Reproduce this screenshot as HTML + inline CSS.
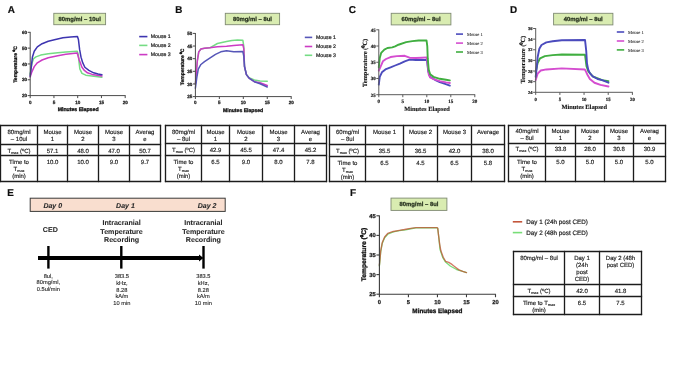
<!DOCTYPE html><html><head><meta charset="utf-8"><style>html,body{margin:0;padding:0;background:#fff;}svg{display:block;will-change:transform;text-rendering:geometricPrecision}</style></head><body>
<svg width="685" height="385" viewBox="0 0 685 385">
<defs><filter id="bl" x="0" y="0" width="1" height="1"><feGaussianBlur stdDeviation="0.35"/></filter></defs>
<rect width="685" height="385" fill="#fff"/>
<g filter="url(#bl)">
<text x="7.80" y="13.10" font-size="9.9" text-anchor="start" font-weight="bold" font-family='"Liberation Sans", sans-serif' fill="#111" stroke="#111" stroke-width="0.2">A</text>
<text x="175.30" y="13.00" font-size="9.9" text-anchor="start" font-weight="bold" font-family='"Liberation Sans", sans-serif' fill="#111" stroke="#111" stroke-width="0.2">B</text>
<text x="348.70" y="12.80" font-size="9.9" text-anchor="start" font-weight="bold" font-family='"Liberation Sans", sans-serif' fill="#111" stroke="#111" stroke-width="0.2">C</text>
<text x="510.00" y="13.40" font-size="9.9" text-anchor="start" font-weight="bold" font-family='"Liberation Sans", sans-serif' fill="#111" stroke="#111" stroke-width="0.2">D</text>
<text x="7.30" y="196.00" font-size="9.9" text-anchor="start" font-weight="bold" font-family='"Liberation Sans", sans-serif' fill="#111" stroke="#111" stroke-width="0.2">E</text>
<text x="350.00" y="195.60" font-size="9.9" text-anchor="start" font-weight="bold" font-family='"Liberation Sans", sans-serif' fill="#111" stroke="#111" stroke-width="0.2">F</text>
<rect x="53.8" y="13.3" width="51.8" height="11.4" fill="#d9ecb1" stroke="#7f8a72" stroke-width="0.9"/>
<text x="79.70" y="21.12" font-size="5.9" text-anchor="middle" font-weight="bold" font-family='"Liberation Sans", sans-serif' fill="#27321f" stroke="#27321f" stroke-width="0.25">80mg/ml – 10ul</text>
<rect x="225.3" y="13.3" width="54.3" height="11.4" fill="#d9ecb1" stroke="#7f8a72" stroke-width="0.9"/>
<text x="252.45" y="21.12" font-size="5.9" text-anchor="middle" font-weight="bold" font-family='"Liberation Sans", sans-serif' fill="#27321f" stroke="#27321f" stroke-width="0.25">80mg/ml – 8ul</text>
<rect x="391.2" y="13.3" width="59.7" height="11.6" fill="#d9ecb1" stroke="#7f8a72" stroke-width="0.9"/>
<text x="421.05" y="21.22" font-size="5.9" text-anchor="middle" font-weight="bold" font-family='"Liberation Sans", sans-serif' fill="#27321f" stroke="#27321f" stroke-width="0.25">60mg/ml – 8ul</text>
<rect x="553.6" y="13.3" width="59.3" height="11.6" fill="#d9ecb1" stroke="#7f8a72" stroke-width="0.9"/>
<text x="583.25" y="21.22" font-size="5.9" text-anchor="middle" font-weight="bold" font-family='"Liberation Sans", sans-serif' fill="#27321f" stroke="#27321f" stroke-width="0.25">40mg/ml – 8ul</text>
<rect x="391" y="198.1" width="55.9" height="12.3" fill="#d9ecb1" stroke="#7f8a72" stroke-width="0.9"/>
<text x="418.95" y="206.37" font-size="5.9" text-anchor="middle" font-weight="bold" font-family='"Liberation Sans", sans-serif' fill="#27321f" stroke="#27321f" stroke-width="0.25">80mg/ml – 8ul</text>
<polyline points="30.20,74.24 31.86,63.63 33.52,58.73 35.90,56.83 40.65,55.09 48.25,53.82 57.75,52.71 65.83,51.92 77.22,51.13 78.41,55.09 79.12,62.84 79.84,69.01 81.97,73.44 85.78,75.19 91.95,75.98 101.92,77.24" fill="none" stroke="#74dc84" stroke-width="1.5" stroke-linejoin="round" stroke-linecap="round"/>
<polyline points="30.20,76.93 31.86,71.86 34.24,66.64 37.33,62.84 42.08,59.99 48.25,57.78 57.75,55.72 65.83,54.14 77.22,53.03 79.12,59.68 80.31,62.68 81.97,67.27 84.35,70.44 87.44,72.81 92.19,74.39 101.92,75.98" fill="none" stroke="#cc3ac4" stroke-width="1.5" stroke-linejoin="round" stroke-linecap="round"/>
<polyline points="30.20,76.14 31.39,65.85 32.38,57.30 34.24,51.29 37.33,46.86 42.08,43.69 48.25,41.32 54.42,39.74 62.97,37.84 70.58,37.05 77.46,36.57 78.41,39.42 79.60,49.39 81.02,57.15 82.69,62.68 84.83,67.27 88.86,70.44 93.61,72.81 98.12,74.08 101.92,74.71" fill="none" stroke="#3e34b0" stroke-width="1.5" stroke-linejoin="round" stroke-linecap="round"/>
<line x1="30.20" y1="31.90" x2="30.20" y2="96.00" stroke="#4a4a4a" stroke-width="1.0"/>
<line x1="29.80" y1="95.60" x2="125.60" y2="95.60" stroke="#4a4a4a" stroke-width="1.0"/>
<line x1="27.70" y1="95.60" x2="30.20" y2="95.60" stroke="#4a4a4a" stroke-width="1.0"/>
<text x="27.10" y="97.26" font-size="4.6" text-anchor="end" font-weight="bold" font-family='"Liberation Sans", sans-serif' fill="#222" stroke="#222" stroke-width="0.25">20</text>
<line x1="27.70" y1="79.77" x2="30.20" y2="79.77" stroke="#4a4a4a" stroke-width="1.0"/>
<text x="27.10" y="81.43" font-size="4.6" text-anchor="end" font-weight="bold" font-family='"Liberation Sans", sans-serif' fill="#222" stroke="#222" stroke-width="0.25">30</text>
<line x1="27.70" y1="63.95" x2="30.20" y2="63.95" stroke="#4a4a4a" stroke-width="1.0"/>
<text x="27.10" y="65.61" font-size="4.6" text-anchor="end" font-weight="bold" font-family='"Liberation Sans", sans-serif' fill="#222" stroke="#222" stroke-width="0.25">40</text>
<line x1="27.70" y1="48.12" x2="30.20" y2="48.12" stroke="#4a4a4a" stroke-width="1.0"/>
<text x="27.10" y="49.78" font-size="4.6" text-anchor="end" font-weight="bold" font-family='"Liberation Sans", sans-serif' fill="#222" stroke="#222" stroke-width="0.25">50</text>
<line x1="27.70" y1="32.30" x2="30.20" y2="32.30" stroke="#4a4a4a" stroke-width="1.0"/>
<text x="27.10" y="33.96" font-size="4.6" text-anchor="end" font-weight="bold" font-family='"Liberation Sans", sans-serif' fill="#222" stroke="#222" stroke-width="0.25">60</text>
<line x1="30.20" y1="95.60" x2="30.20" y2="98.10" stroke="#4a4a4a" stroke-width="1.0"/>
<text x="30.20" y="103.50" font-size="4.6" text-anchor="middle" font-weight="bold" font-family='"Liberation Sans", sans-serif' fill="#222" stroke="#222" stroke-width="0.25">0</text>
<line x1="53.95" y1="95.60" x2="53.95" y2="98.10" stroke="#4a4a4a" stroke-width="1.0"/>
<text x="53.95" y="103.50" font-size="4.6" text-anchor="middle" font-weight="bold" font-family='"Liberation Sans", sans-serif' fill="#222" stroke="#222" stroke-width="0.25">5</text>
<line x1="77.70" y1="95.60" x2="77.70" y2="98.10" stroke="#4a4a4a" stroke-width="1.0"/>
<text x="77.70" y="103.50" font-size="4.6" text-anchor="middle" font-weight="bold" font-family='"Liberation Sans", sans-serif' fill="#222" stroke="#222" stroke-width="0.25">10</text>
<line x1="101.45" y1="95.60" x2="101.45" y2="98.10" stroke="#4a4a4a" stroke-width="1.0"/>
<text x="101.45" y="103.50" font-size="4.6" text-anchor="middle" font-weight="bold" font-family='"Liberation Sans", sans-serif' fill="#222" stroke="#222" stroke-width="0.25">15</text>
<line x1="125.20" y1="95.60" x2="125.20" y2="98.10" stroke="#4a4a4a" stroke-width="1.0"/>
<text x="125.20" y="103.50" font-size="4.6" text-anchor="middle" font-weight="bold" font-family='"Liberation Sans", sans-serif' fill="#222" stroke="#222" stroke-width="0.25">20</text>
<text x="78.10" y="111.00" font-size="5.2" text-anchor="middle" font-weight="bold" font-family='"Liberation Sans", sans-serif' fill="#111" stroke="#111" stroke-width="0.3">Minutes Elapsed</text>
<text transform="translate(17.40,64.50) rotate(-90)" font-size="5.0" text-anchor="middle" font-weight="bold" font-family='"Liberation Sans", sans-serif' fill="#111" stroke="#111" stroke-width="0.3">Temperature ⁰C</text>
<line x1="139.20" y1="36.60" x2="147.40" y2="36.60" stroke="#3e34b0" stroke-width="1.6"/>
<text x="150.80" y="38.47" font-size="5.2" text-anchor="start" font-family='"Liberation Sans", sans-serif' fill="#222" stroke="#222" stroke-width="0.2">Mouse 1</text>
<line x1="139.20" y1="45.40" x2="147.40" y2="45.40" stroke="#74dc84" stroke-width="1.6"/>
<text x="150.80" y="47.27" font-size="5.2" text-anchor="start" font-family='"Liberation Sans", sans-serif' fill="#222" stroke="#222" stroke-width="0.2">Mouse 2</text>
<line x1="139.20" y1="54.60" x2="147.40" y2="54.60" stroke="#cc3ac4" stroke-width="1.6"/>
<text x="150.80" y="56.47" font-size="5.2" text-anchor="start" font-family='"Liberation Sans", sans-serif' fill="#222" stroke="#222" stroke-width="0.2">Mouse 3</text>
<polyline points="195.40,83.96 195.88,79.16 196.36,71.83 197.32,60.96 198.75,51.85 200.91,49.07 204.50,48.32 209.77,47.81 217.43,43.51 220.79,42.75 226.53,41.49 231.80,40.48 237.55,40.10 242.82,40.23 243.78,46.04 244.50,66.52 246.41,74.61 249.05,77.64 254.32,79.92 260.06,80.93 267.25,81.18" fill="none" stroke="#74dc84" stroke-width="1.5" stroke-linejoin="round" stroke-linecap="round"/>
<polyline points="195.40,83.96 195.88,79.16 196.36,71.83 197.32,60.96 198.75,51.85 200.91,49.07 204.50,48.32 209.77,47.81 217.43,46.80 226.53,46.29 233.72,45.53 242.82,44.78 243.78,48.57 244.50,66.52 246.41,74.61 249.05,78.15 254.32,81.68 260.06,82.70 267.25,85.48" fill="none" stroke="#cc3ac4" stroke-width="1.5" stroke-linejoin="round" stroke-linecap="round"/>
<polyline points="195.40,88.26 196.84,77.39 198.27,69.04 200.91,64.49 204.50,61.71 209.77,58.17 215.52,54.38 220.79,51.85 226.53,50.84 233.72,51.85 242.82,51.60 243.78,56.15 244.50,66.52 246.41,74.61 249.05,78.15 254.32,81.68 260.06,83.71 267.25,86.99" fill="none" stroke="#5656b8" stroke-width="1.5" stroke-linejoin="round" stroke-linecap="round"/>
<line x1="195.40" y1="33.00" x2="195.40" y2="97.00" stroke="#4a4a4a" stroke-width="1.0"/>
<line x1="195.00" y1="96.60" x2="291.60" y2="96.60" stroke="#4a4a4a" stroke-width="1.0"/>
<line x1="193.00" y1="96.60" x2="195.40" y2="96.60" stroke="#4a4a4a" stroke-width="1.0"/>
<text x="192.40" y="98.26" font-size="4.6" text-anchor="end" font-weight="bold" font-family='"Liberation Sans", sans-serif' fill="#222" stroke="#222" stroke-width="0.25">25</text>
<line x1="193.00" y1="83.96" x2="195.40" y2="83.96" stroke="#4a4a4a" stroke-width="1.0"/>
<text x="192.40" y="85.62" font-size="4.6" text-anchor="end" font-weight="bold" font-family='"Liberation Sans", sans-serif' fill="#222" stroke="#222" stroke-width="0.25">30</text>
<line x1="193.00" y1="71.32" x2="195.40" y2="71.32" stroke="#4a4a4a" stroke-width="1.0"/>
<text x="192.40" y="72.98" font-size="4.6" text-anchor="end" font-weight="bold" font-family='"Liberation Sans", sans-serif' fill="#222" stroke="#222" stroke-width="0.25">35</text>
<line x1="193.00" y1="58.68" x2="195.40" y2="58.68" stroke="#4a4a4a" stroke-width="1.0"/>
<text x="192.40" y="60.34" font-size="4.6" text-anchor="end" font-weight="bold" font-family='"Liberation Sans", sans-serif' fill="#222" stroke="#222" stroke-width="0.25">40</text>
<line x1="193.00" y1="46.04" x2="195.40" y2="46.04" stroke="#4a4a4a" stroke-width="1.0"/>
<text x="192.40" y="47.70" font-size="4.6" text-anchor="end" font-weight="bold" font-family='"Liberation Sans", sans-serif' fill="#222" stroke="#222" stroke-width="0.25">45</text>
<line x1="193.00" y1="33.40" x2="195.40" y2="33.40" stroke="#4a4a4a" stroke-width="1.0"/>
<text x="192.40" y="35.06" font-size="4.6" text-anchor="end" font-weight="bold" font-family='"Liberation Sans", sans-serif' fill="#222" stroke="#222" stroke-width="0.25">50</text>
<line x1="195.40" y1="96.60" x2="195.40" y2="99.00" stroke="#4a4a4a" stroke-width="1.0"/>
<text x="195.40" y="104.20" font-size="4.6" text-anchor="middle" font-weight="bold" font-family='"Liberation Sans", sans-serif' fill="#222" stroke="#222" stroke-width="0.25">0</text>
<line x1="219.35" y1="96.60" x2="219.35" y2="99.00" stroke="#4a4a4a" stroke-width="1.0"/>
<text x="219.35" y="104.20" font-size="4.6" text-anchor="middle" font-weight="bold" font-family='"Liberation Sans", sans-serif' fill="#222" stroke="#222" stroke-width="0.25">5</text>
<line x1="243.30" y1="96.60" x2="243.30" y2="99.00" stroke="#4a4a4a" stroke-width="1.0"/>
<text x="243.30" y="104.20" font-size="4.6" text-anchor="middle" font-weight="bold" font-family='"Liberation Sans", sans-serif' fill="#222" stroke="#222" stroke-width="0.25">10</text>
<line x1="267.25" y1="96.60" x2="267.25" y2="99.00" stroke="#4a4a4a" stroke-width="1.0"/>
<text x="267.25" y="104.20" font-size="4.6" text-anchor="middle" font-weight="bold" font-family='"Liberation Sans", sans-serif' fill="#222" stroke="#222" stroke-width="0.25">15</text>
<line x1="291.20" y1="96.60" x2="291.20" y2="99.00" stroke="#4a4a4a" stroke-width="1.0"/>
<text x="291.20" y="104.20" font-size="4.6" text-anchor="middle" font-weight="bold" font-family='"Liberation Sans", sans-serif' fill="#222" stroke="#222" stroke-width="0.25">20</text>
<text x="243.10" y="112.20" font-size="5.1" text-anchor="middle" font-weight="bold" font-family='"Liberation Sans", sans-serif' fill="#111" stroke="#111" stroke-width="0.3">Minutes Elapsed</text>
<text transform="translate(184.00,66.90) rotate(-90)" font-size="5.0" text-anchor="middle" font-weight="bold" font-family='"Liberation Sans", sans-serif' fill="#111" stroke="#111" stroke-width="0.3">Temperature ⁰C</text>
<line x1="304.80" y1="37.40" x2="312.20" y2="37.40" stroke="#5656b8" stroke-width="1.6"/>
<text x="316.00" y="39.27" font-size="5.2" text-anchor="start" font-family='"Liberation Sans", sans-serif' fill="#222" stroke="#222" stroke-width="0.2">Mouse 1</text>
<line x1="304.80" y1="46.50" x2="312.20" y2="46.50" stroke="#cc3ac4" stroke-width="1.6"/>
<text x="316.00" y="48.37" font-size="5.2" text-anchor="start" font-family='"Liberation Sans", sans-serif' fill="#222" stroke="#222" stroke-width="0.2">Mouse 2</text>
<line x1="304.80" y1="55.30" x2="312.20" y2="55.30" stroke="#74dc84" stroke-width="1.6"/>
<text x="316.00" y="57.17" font-size="5.2" text-anchor="start" font-family='"Liberation Sans", sans-serif' fill="#222" stroke="#222" stroke-width="0.2">Mouse 3</text>
<polyline points="378.80,84.64 379.76,76.85 381.92,72.31 386.00,69.06 390.56,67.44 395.12,65.50 399.92,63.55 404.72,61.28 409.52,59.65 415.76,59.98 426.32,59.98 427.04,60.63 428.24,71.34 430.16,76.85 434.96,79.77 439.76,82.04 444.32,83.67 449.84,85.61" fill="none" stroke="#4b4bbd" stroke-width="1.9" stroke-linejoin="round" stroke-linecap="round"/>
<polyline points="378.80,70.69 380.48,66.79 382.88,61.28 386.00,59.00 390.56,57.06 396.80,56.08 404.72,55.76 409.52,57.71 415.76,58.03 422.00,57.71 426.56,57.38 427.28,60.63 428.72,74.26 430.16,77.50 433.52,79.12 439.76,81.07 446.00,82.37 449.84,83.02" fill="none" stroke="#d54ed0" stroke-width="1.9" stroke-linejoin="round" stroke-linecap="round"/>
<polyline points="378.80,67.44 379.76,58.03 381.20,52.84 384.32,49.59 387.44,47.97 392.24,47.32 395.12,46.35 398.48,44.73 406.16,42.13 412.40,41.16 418.64,40.51 426.56,40.51 427.28,46.02 427.76,58.68 428.72,69.71 430.16,74.26 433.52,76.85 439.76,78.80 446.00,79.77 449.84,80.42" fill="none" stroke="#3fae3f" stroke-width="1.9" stroke-linejoin="round" stroke-linecap="round"/>
<line x1="378.80" y1="29.40" x2="378.80" y2="95.10" stroke="#5a5a5a" stroke-width="1.0"/>
<line x1="378.40" y1="94.70" x2="475.20" y2="94.70" stroke="#5a5a5a" stroke-width="1.0"/>
<line x1="376.30" y1="94.70" x2="378.80" y2="94.70" stroke="#5a5a5a" stroke-width="1.0"/>
<text x="375.70" y="96.50" font-size="4.9" text-anchor="end" font-weight="bold" font-family='"Liberation Serif", serif' fill="#222" stroke="#222" stroke-width="0.2">25</text>
<line x1="376.30" y1="78.47" x2="378.80" y2="78.47" stroke="#5a5a5a" stroke-width="1.0"/>
<text x="375.70" y="80.27" font-size="4.9" text-anchor="end" font-weight="bold" font-family='"Liberation Serif", serif' fill="#222" stroke="#222" stroke-width="0.2">30</text>
<line x1="376.30" y1="62.25" x2="378.80" y2="62.25" stroke="#5a5a5a" stroke-width="1.0"/>
<text x="375.70" y="64.05" font-size="4.9" text-anchor="end" font-weight="bold" font-family='"Liberation Serif", serif' fill="#222" stroke="#222" stroke-width="0.2">35</text>
<line x1="376.30" y1="46.02" x2="378.80" y2="46.02" stroke="#5a5a5a" stroke-width="1.0"/>
<text x="375.70" y="47.82" font-size="4.9" text-anchor="end" font-weight="bold" font-family='"Liberation Serif", serif' fill="#222" stroke="#222" stroke-width="0.2">40</text>
<line x1="376.30" y1="29.80" x2="378.80" y2="29.80" stroke="#5a5a5a" stroke-width="1.0"/>
<text x="375.70" y="31.60" font-size="4.9" text-anchor="end" font-weight="bold" font-family='"Liberation Serif", serif' fill="#222" stroke="#222" stroke-width="0.2">45</text>
<line x1="378.80" y1="94.70" x2="378.80" y2="97.20" stroke="#5a5a5a" stroke-width="1.0"/>
<text x="378.80" y="102.60" font-size="5.0" text-anchor="middle" font-weight="bold" font-family='"Liberation Serif", serif' fill="#222" stroke="#222" stroke-width="0.2">0</text>
<line x1="402.80" y1="94.70" x2="402.80" y2="97.20" stroke="#5a5a5a" stroke-width="1.0"/>
<text x="402.80" y="102.60" font-size="5.0" text-anchor="middle" font-weight="bold" font-family='"Liberation Serif", serif' fill="#222" stroke="#222" stroke-width="0.2">5</text>
<line x1="426.80" y1="94.70" x2="426.80" y2="97.20" stroke="#5a5a5a" stroke-width="1.0"/>
<text x="426.80" y="102.60" font-size="5.0" text-anchor="middle" font-weight="bold" font-family='"Liberation Serif", serif' fill="#222" stroke="#222" stroke-width="0.2">10</text>
<line x1="450.80" y1="94.70" x2="450.80" y2="97.20" stroke="#5a5a5a" stroke-width="1.0"/>
<text x="450.80" y="102.60" font-size="5.0" text-anchor="middle" font-weight="bold" font-family='"Liberation Serif", serif' fill="#222" stroke="#222" stroke-width="0.2">15</text>
<line x1="474.80" y1="94.70" x2="474.80" y2="97.20" stroke="#5a5a5a" stroke-width="1.0"/>
<text x="474.80" y="102.60" font-size="5.0" text-anchor="middle" font-weight="bold" font-family='"Liberation Serif", serif' fill="#222" stroke="#222" stroke-width="0.2">20</text>
<text x="427.00" y="110.80" font-size="6.4" text-anchor="middle" font-weight="bold" font-family='"Liberation Serif", serif' fill="#111" stroke="#111" stroke-width="0.12">Minutes Elapsed</text>
<text transform="translate(366.60,62.90) rotate(-90)" font-size="6.4" text-anchor="middle" font-weight="bold" font-family='"Liberation Serif", serif' fill="#111" stroke="#111" stroke-width="0.12">Temperature (⁰C)</text>
<line x1="456.00" y1="34.10" x2="463.00" y2="34.10" stroke="#4b4bbd" stroke-width="1.6"/>
<text x="466.90" y="35.76" font-size="4.6" text-anchor="start" font-family='"Liberation Serif", serif' fill="#222" stroke="#222" stroke-width="0.06">Mouse 1</text>
<line x1="456.00" y1="43.10" x2="463.00" y2="43.10" stroke="#d54ed0" stroke-width="1.6"/>
<text x="466.90" y="44.76" font-size="4.6" text-anchor="start" font-family='"Liberation Serif", serif' fill="#222" stroke="#222" stroke-width="0.06">Mouse 2</text>
<line x1="456.00" y1="52.00" x2="463.00" y2="52.00" stroke="#3fae3f" stroke-width="1.6"/>
<text x="466.90" y="53.66" font-size="4.6" text-anchor="start" font-family='"Liberation Serif", serif' fill="#222" stroke="#222" stroke-width="0.06">Mouse 3</text>
<polyline points="535.70,80.07 537.63,73.69 540.78,70.50 546.34,69.44 561.81,68.38 584.78,69.44 585.98,71.56 587.43,74.75 589.85,79.01 594.45,82.73 600.49,84.86 608.47,86.45" fill="none" stroke="#d54ed0" stroke-width="1.9" stroke-linejoin="round" stroke-linecap="round"/>
<polyline points="535.70,72.10 537.63,63.06 540.05,58.27 544.89,56.15 552.62,55.08 561.81,54.55 585.02,54.82 585.74,60.40 586.47,66.25 588.16,71.03 592.75,76.35 602.18,80.07 608.47,81.13" fill="none" stroke="#3fae3f" stroke-width="1.9" stroke-linejoin="round" stroke-linecap="round"/>
<polyline points="535.70,76.88 536.91,65.72 537.63,57.21 539.33,48.70 541.50,44.98 546.34,42.32 552.62,41.26 561.81,40.20 585.02,39.93 586.23,50.83 586.95,63.06 588.16,69.44 589.85,73.16 592.75,76.35 597.59,79.01 602.18,80.07 608.47,82.73" fill="none" stroke="#4b4bbd" stroke-width="1.9" stroke-linejoin="round" stroke-linecap="round"/>
<line x1="535.70" y1="28.10" x2="535.70" y2="92.70" stroke="#5a5a5a" stroke-width="1.0"/>
<line x1="535.30" y1="92.30" x2="632.80" y2="92.30" stroke="#5a5a5a" stroke-width="1.0"/>
<line x1="533.10" y1="92.30" x2="535.70" y2="92.30" stroke="#5a5a5a" stroke-width="1.0"/>
<text x="532.50" y="94.03" font-size="4.5" text-anchor="end" font-weight="bold" font-family='"Liberation Serif", serif' fill="#222" stroke="#222" stroke-width="0.2">24</text>
<line x1="533.10" y1="81.67" x2="535.70" y2="81.67" stroke="#5a5a5a" stroke-width="1.0"/>
<text x="532.50" y="83.39" font-size="4.5" text-anchor="end" font-weight="bold" font-family='"Liberation Serif", serif' fill="#222" stroke="#222" stroke-width="0.2">26</text>
<line x1="533.10" y1="71.03" x2="535.70" y2="71.03" stroke="#5a5a5a" stroke-width="1.0"/>
<text x="532.50" y="72.76" font-size="4.5" text-anchor="end" font-weight="bold" font-family='"Liberation Serif", serif' fill="#222" stroke="#222" stroke-width="0.2">28</text>
<line x1="533.10" y1="60.40" x2="535.70" y2="60.40" stroke="#5a5a5a" stroke-width="1.0"/>
<text x="532.50" y="62.13" font-size="4.5" text-anchor="end" font-weight="bold" font-family='"Liberation Serif", serif' fill="#222" stroke="#222" stroke-width="0.2">30</text>
<line x1="533.10" y1="49.77" x2="535.70" y2="49.77" stroke="#5a5a5a" stroke-width="1.0"/>
<text x="532.50" y="51.49" font-size="4.5" text-anchor="end" font-weight="bold" font-family='"Liberation Serif", serif' fill="#222" stroke="#222" stroke-width="0.2">32</text>
<line x1="533.10" y1="39.13" x2="535.70" y2="39.13" stroke="#5a5a5a" stroke-width="1.0"/>
<text x="532.50" y="40.86" font-size="4.5" text-anchor="end" font-weight="bold" font-family='"Liberation Serif", serif' fill="#222" stroke="#222" stroke-width="0.2">34</text>
<line x1="533.10" y1="28.50" x2="535.70" y2="28.50" stroke="#5a5a5a" stroke-width="1.0"/>
<text x="532.50" y="30.23" font-size="4.5" text-anchor="end" font-weight="bold" font-family='"Liberation Serif", serif' fill="#222" stroke="#222" stroke-width="0.2">36</text>
<line x1="535.70" y1="92.30" x2="535.70" y2="94.90" stroke="#5a5a5a" stroke-width="1.0"/>
<text x="535.70" y="100.60" font-size="4.8" text-anchor="middle" font-weight="bold" font-family='"Liberation Serif", serif' fill="#222" stroke="#222" stroke-width="0.2">0</text>
<line x1="559.88" y1="92.30" x2="559.88" y2="94.90" stroke="#5a5a5a" stroke-width="1.0"/>
<text x="559.88" y="100.60" font-size="4.8" text-anchor="middle" font-weight="bold" font-family='"Liberation Serif", serif' fill="#222" stroke="#222" stroke-width="0.2">5</text>
<line x1="584.05" y1="92.30" x2="584.05" y2="94.90" stroke="#5a5a5a" stroke-width="1.0"/>
<text x="584.05" y="100.60" font-size="4.8" text-anchor="middle" font-weight="bold" font-family='"Liberation Serif", serif' fill="#222" stroke="#222" stroke-width="0.2">10</text>
<line x1="608.23" y1="92.30" x2="608.23" y2="94.90" stroke="#5a5a5a" stroke-width="1.0"/>
<text x="608.23" y="100.60" font-size="4.8" text-anchor="middle" font-weight="bold" font-family='"Liberation Serif", serif' fill="#222" stroke="#222" stroke-width="0.2">15</text>
<line x1="632.40" y1="92.30" x2="632.40" y2="94.90" stroke="#5a5a5a" stroke-width="1.0"/>
<text x="632.40" y="100.60" font-size="4.8" text-anchor="middle" font-weight="bold" font-family='"Liberation Serif", serif' fill="#222" stroke="#222" stroke-width="0.2">20</text>
<text x="584.20" y="108.80" font-size="6.4" text-anchor="middle" font-weight="bold" font-family='"Liberation Serif", serif' fill="#111" stroke="#111" stroke-width="0.12">Minutes Elapsed</text>
<text transform="translate(525.40,59.60) rotate(-90)" font-size="6.3" text-anchor="middle" font-weight="bold" font-family='"Liberation Serif", serif' fill="#111" stroke="#111" stroke-width="0.12">Temperature (⁰C)</text>
<line x1="616.80" y1="32.00" x2="624.20" y2="32.00" stroke="#4b4bbd" stroke-width="1.6"/>
<text x="627.90" y="33.66" font-size="4.6" text-anchor="start" font-family='"Liberation Serif", serif' fill="#222" stroke="#222" stroke-width="0.06">Mouse 1</text>
<line x1="616.80" y1="41.00" x2="624.20" y2="41.00" stroke="#d54ed0" stroke-width="1.6"/>
<text x="627.90" y="42.66" font-size="4.6" text-anchor="start" font-family='"Liberation Serif", serif' fill="#222" stroke="#222" stroke-width="0.06">Mouse 2</text>
<line x1="616.80" y1="49.90" x2="624.20" y2="49.90" stroke="#3fae3f" stroke-width="1.6"/>
<text x="627.90" y="51.56" font-size="4.6" text-anchor="start" font-family='"Liberation Serif", serif' fill="#222" stroke="#222" stroke-width="0.06">Mouse 3</text>
<polyline points="379.40,265.98 379.86,261.27 380.68,251.86 382.30,243.24 384.62,237.75 387.70,234.22 393.33,231.87 399.43,230.70 405.52,229.91 410.75,228.74 415.97,227.95 423.52,227.76 436.87,227.76 437.74,228.34 438.61,235.79 440.06,249.51 442.67,257.35 445.58,262.06 450.22,265.98 456.61,269.50 462.70,271.46 466.48,272.64" fill="none" stroke="#78de78" stroke-width="1.35" stroke-linejoin="round" stroke-linecap="round"/>
<polyline points="379.40,265.19 379.86,260.49 380.68,251.08 382.30,242.46 384.62,236.97 387.70,233.44 393.33,231.48 399.43,230.30 404.36,229.52 410.75,228.34 415.97,227.56 423.52,227.56 436.87,227.56 437.74,228.34 438.61,235.79 439.77,244.81 440.93,251.08 443.25,257.35 445.58,261.27 448.77,262.45 451.96,264.41 454.87,266.76 458.93,269.90 462.70,271.46 466.48,272.64" fill="none" stroke="#c4553a" stroke-width="1.35" stroke-linejoin="round" stroke-linecap="round" stroke-opacity="0.78"/>
<line x1="379.40" y1="215.40" x2="379.40" y2="294.60" stroke="#3a3a3a" stroke-width="1.1"/>
<line x1="379.00" y1="294.20" x2="495.90" y2="294.20" stroke="#3a3a3a" stroke-width="1.1"/>
<line x1="376.40" y1="294.20" x2="379.40" y2="294.20" stroke="#3a3a3a" stroke-width="1.1"/>
<text x="375.80" y="296.29" font-size="5.8" text-anchor="end" font-weight="bold" font-family='"Liberation Sans", sans-serif' fill="#222" stroke="#222" stroke-width="0.25">25</text>
<line x1="376.40" y1="274.60" x2="379.40" y2="274.60" stroke="#3a3a3a" stroke-width="1.1"/>
<text x="375.80" y="276.69" font-size="5.8" text-anchor="end" font-weight="bold" font-family='"Liberation Sans", sans-serif' fill="#222" stroke="#222" stroke-width="0.25">30</text>
<line x1="376.40" y1="255.00" x2="379.40" y2="255.00" stroke="#3a3a3a" stroke-width="1.1"/>
<text x="375.80" y="257.09" font-size="5.8" text-anchor="end" font-weight="bold" font-family='"Liberation Sans", sans-serif' fill="#222" stroke="#222" stroke-width="0.25">35</text>
<line x1="376.40" y1="235.40" x2="379.40" y2="235.40" stroke="#3a3a3a" stroke-width="1.1"/>
<text x="375.80" y="237.49" font-size="5.8" text-anchor="end" font-weight="bold" font-family='"Liberation Sans", sans-serif' fill="#222" stroke="#222" stroke-width="0.25">40</text>
<line x1="376.40" y1="215.80" x2="379.40" y2="215.80" stroke="#3a3a3a" stroke-width="1.1"/>
<text x="375.80" y="217.89" font-size="5.8" text-anchor="end" font-weight="bold" font-family='"Liberation Sans", sans-serif' fill="#222" stroke="#222" stroke-width="0.25">45</text>
<line x1="379.40" y1="294.20" x2="379.40" y2="297.20" stroke="#3a3a3a" stroke-width="1.1"/>
<text x="379.40" y="303.70" font-size="5.8" text-anchor="middle" font-weight="bold" font-family='"Liberation Sans", sans-serif' fill="#222" stroke="#222" stroke-width="0.25">0</text>
<line x1="408.42" y1="294.20" x2="408.42" y2="297.20" stroke="#3a3a3a" stroke-width="1.1"/>
<text x="408.42" y="303.70" font-size="5.8" text-anchor="middle" font-weight="bold" font-family='"Liberation Sans", sans-serif' fill="#222" stroke="#222" stroke-width="0.25">5</text>
<line x1="437.45" y1="294.20" x2="437.45" y2="297.20" stroke="#3a3a3a" stroke-width="1.1"/>
<text x="437.45" y="303.70" font-size="5.8" text-anchor="middle" font-weight="bold" font-family='"Liberation Sans", sans-serif' fill="#222" stroke="#222" stroke-width="0.25">10</text>
<line x1="466.48" y1="294.20" x2="466.48" y2="297.20" stroke="#3a3a3a" stroke-width="1.1"/>
<text x="466.48" y="303.70" font-size="5.8" text-anchor="middle" font-weight="bold" font-family='"Liberation Sans", sans-serif' fill="#222" stroke="#222" stroke-width="0.25">15</text>
<line x1="495.50" y1="294.20" x2="495.50" y2="297.20" stroke="#3a3a3a" stroke-width="1.1"/>
<text x="495.50" y="303.70" font-size="5.8" text-anchor="middle" font-weight="bold" font-family='"Liberation Sans", sans-serif' fill="#222" stroke="#222" stroke-width="0.25">20</text>
<text x="437.40" y="313.20" font-size="6.35" text-anchor="middle" font-weight="bold" font-family='"Liberation Sans", sans-serif' fill="#111" stroke="#111" stroke-width="0.3">Minutes Elapsed</text>
<text transform="translate(366.00,254.50) rotate(-90)" font-size="6.7" text-anchor="middle" font-weight="bold" font-family='"Liberation Sans", sans-serif' fill="#111" stroke="#111" stroke-width="0.3">Temperature (⁰C)</text>
<line x1="512.80" y1="221.80" x2="522.20" y2="221.80" stroke="#c4553a" stroke-width="1.6"/>
<text x="526.30" y="224.07" font-size="6.3" text-anchor="start" font-family='"Liberation Sans", sans-serif' fill="#222" stroke="#222" stroke-width="0.2">Day 1 (24h post CED)</text>
<line x1="512.80" y1="232.60" x2="522.20" y2="232.60" stroke="#78de78" stroke-width="1.6"/>
<text x="526.30" y="234.87" font-size="6.3" text-anchor="start" font-family='"Liberation Sans", sans-serif' fill="#222" stroke="#222" stroke-width="0.2">Day 2 (48h post CED)</text>
<line x1="0.50" y1="124.85" x2="0.50" y2="182.15" stroke="#1e1e1e" stroke-width="1.3"/>
<line x1="37.50" y1="124.85" x2="37.50" y2="182.15" stroke="#1e1e1e" stroke-width="1.3"/>
<line x1="67.50" y1="124.85" x2="67.50" y2="182.15" stroke="#1e1e1e" stroke-width="1.3"/>
<line x1="98.50" y1="124.85" x2="98.50" y2="182.15" stroke="#1e1e1e" stroke-width="1.3"/>
<line x1="129.50" y1="124.85" x2="129.50" y2="182.15" stroke="#1e1e1e" stroke-width="1.3"/>
<line x1="160.50" y1="124.85" x2="160.50" y2="182.15" stroke="#1e1e1e" stroke-width="1.3"/>
<line x1="-0.15" y1="125.50" x2="161.15" y2="125.50" stroke="#1e1e1e" stroke-width="1.3"/>
<line x1="-0.15" y1="144.50" x2="161.15" y2="144.50" stroke="#1e1e1e" stroke-width="1.3"/>
<line x1="-0.15" y1="155.50" x2="161.15" y2="155.50" stroke="#1e1e1e" stroke-width="1.3"/>
<line x1="-0.15" y1="181.50" x2="161.15" y2="181.50" stroke="#1e1e1e" stroke-width="1.3"/>
<text x="19.00" y="133.60" font-size="6.0" text-anchor="middle" font-family='"Liberation Sans", sans-serif' fill="#111" stroke="#111" stroke-width="0.14">80mg/ml</text>
<text x="19.00" y="140.60" font-size="6.0" text-anchor="middle" font-family='"Liberation Sans", sans-serif' fill="#111" stroke="#111" stroke-width="0.14">– 10ul</text>
<text x="52.50" y="133.60" font-size="6.0" text-anchor="middle" font-family='"Liberation Sans", sans-serif' fill="#111" stroke="#111" stroke-width="0.14">Mouse</text>
<text x="52.50" y="140.60" font-size="6.0" text-anchor="middle" font-family='"Liberation Sans", sans-serif' fill="#111" stroke="#111" stroke-width="0.14">1</text>
<text x="83.00" y="133.60" font-size="6.0" text-anchor="middle" font-family='"Liberation Sans", sans-serif' fill="#111" stroke="#111" stroke-width="0.14">Mouse</text>
<text x="83.00" y="140.60" font-size="6.0" text-anchor="middle" font-family='"Liberation Sans", sans-serif' fill="#111" stroke="#111" stroke-width="0.14">2</text>
<text x="114.00" y="133.60" font-size="6.0" text-anchor="middle" font-family='"Liberation Sans", sans-serif' fill="#111" stroke="#111" stroke-width="0.14">Mouse</text>
<text x="114.00" y="140.60" font-size="6.0" text-anchor="middle" font-family='"Liberation Sans", sans-serif' fill="#111" stroke="#111" stroke-width="0.14">3</text>
<text x="145.00" y="133.60" font-size="6.0" text-anchor="middle" font-family='"Liberation Sans", sans-serif' fill="#111" stroke="#111" stroke-width="0.14">Averag</text>
<text x="145.00" y="140.60" font-size="6.0" text-anchor="middle" font-family='"Liberation Sans", sans-serif' fill="#111" stroke="#111" stroke-width="0.14">e</text>
<text x="19.00" y="152.60" font-size="6.0" text-anchor="middle" font-family='"Liberation Sans", sans-serif' fill="#111" stroke="#111" stroke-width="0.14">T<tspan font-size="3.8" dy="1.4">max</tspan><tspan dy="-1.4"> (ºC)</tspan></text>
<text x="52.50" y="152.60" font-size="6.0" text-anchor="middle" font-family='"Liberation Sans", sans-serif' fill="#111" stroke="#111" stroke-width="0.14">57.1</text>
<text x="83.00" y="152.60" font-size="6.0" text-anchor="middle" font-family='"Liberation Sans", sans-serif' fill="#111" stroke="#111" stroke-width="0.14">48.0</text>
<text x="114.00" y="152.60" font-size="6.0" text-anchor="middle" font-family='"Liberation Sans", sans-serif' fill="#111" stroke="#111" stroke-width="0.14">47.0</text>
<text x="145.00" y="152.60" font-size="6.0" text-anchor="middle" font-family='"Liberation Sans", sans-serif' fill="#111" stroke="#111" stroke-width="0.14">50.7</text>
<text x="19.00" y="163.60" font-size="6.0" text-anchor="middle" font-family='"Liberation Sans", sans-serif' fill="#111" stroke="#111" stroke-width="0.14">Time to</text>
<text x="19.00" y="170.60" font-size="6.0" text-anchor="middle" font-family='"Liberation Sans", sans-serif' fill="#111" stroke="#111" stroke-width="0.14">T<tspan font-size="3.8" dy="1.4">max</tspan></text>
<text x="19.00" y="177.60" font-size="6.0" text-anchor="middle" font-family='"Liberation Sans", sans-serif' fill="#111" stroke="#111" stroke-width="0.14">(min)</text>
<text x="52.50" y="163.60" font-size="6.0" text-anchor="middle" font-family='"Liberation Sans", sans-serif' fill="#111" stroke="#111" stroke-width="0.14">10.0</text>
<text x="83.00" y="163.60" font-size="6.0" text-anchor="middle" font-family='"Liberation Sans", sans-serif' fill="#111" stroke="#111" stroke-width="0.14">10.0</text>
<text x="114.00" y="163.60" font-size="6.0" text-anchor="middle" font-family='"Liberation Sans", sans-serif' fill="#111" stroke="#111" stroke-width="0.14">9.0</text>
<text x="145.00" y="163.60" font-size="6.0" text-anchor="middle" font-family='"Liberation Sans", sans-serif' fill="#111" stroke="#111" stroke-width="0.14">9.7</text>
<line x1="165.50" y1="124.85" x2="165.50" y2="182.15" stroke="#1e1e1e" stroke-width="1.3"/>
<line x1="201.50" y1="124.85" x2="201.50" y2="182.15" stroke="#1e1e1e" stroke-width="1.3"/>
<line x1="229.50" y1="124.85" x2="229.50" y2="182.15" stroke="#1e1e1e" stroke-width="1.3"/>
<line x1="262.50" y1="124.85" x2="262.50" y2="182.15" stroke="#1e1e1e" stroke-width="1.3"/>
<line x1="294.50" y1="124.85" x2="294.50" y2="182.15" stroke="#1e1e1e" stroke-width="1.3"/>
<line x1="326.50" y1="124.85" x2="326.50" y2="182.15" stroke="#1e1e1e" stroke-width="1.3"/>
<line x1="164.85" y1="125.50" x2="327.15" y2="125.50" stroke="#1e1e1e" stroke-width="1.3"/>
<line x1="164.85" y1="143.50" x2="327.15" y2="143.50" stroke="#1e1e1e" stroke-width="1.3"/>
<line x1="164.85" y1="155.50" x2="327.15" y2="155.50" stroke="#1e1e1e" stroke-width="1.3"/>
<line x1="164.85" y1="181.50" x2="327.15" y2="181.50" stroke="#1e1e1e" stroke-width="1.3"/>
<text x="183.50" y="133.60" font-size="6.0" text-anchor="middle" font-family='"Liberation Sans", sans-serif' fill="#111" stroke="#111" stroke-width="0.14">80mg/ml</text>
<text x="183.50" y="140.60" font-size="6.0" text-anchor="middle" font-family='"Liberation Sans", sans-serif' fill="#111" stroke="#111" stroke-width="0.14">– 8ul</text>
<text x="215.50" y="133.60" font-size="6.0" text-anchor="middle" font-family='"Liberation Sans", sans-serif' fill="#111" stroke="#111" stroke-width="0.14">Mouse</text>
<text x="215.50" y="140.60" font-size="6.0" text-anchor="middle" font-family='"Liberation Sans", sans-serif' fill="#111" stroke="#111" stroke-width="0.14">1</text>
<text x="246.00" y="133.60" font-size="6.0" text-anchor="middle" font-family='"Liberation Sans", sans-serif' fill="#111" stroke="#111" stroke-width="0.14">Mouse</text>
<text x="246.00" y="140.60" font-size="6.0" text-anchor="middle" font-family='"Liberation Sans", sans-serif' fill="#111" stroke="#111" stroke-width="0.14">2</text>
<text x="278.50" y="133.60" font-size="6.0" text-anchor="middle" font-family='"Liberation Sans", sans-serif' fill="#111" stroke="#111" stroke-width="0.14">Mouse</text>
<text x="278.50" y="140.60" font-size="6.0" text-anchor="middle" font-family='"Liberation Sans", sans-serif' fill="#111" stroke="#111" stroke-width="0.14">3</text>
<text x="310.50" y="133.60" font-size="6.0" text-anchor="middle" font-family='"Liberation Sans", sans-serif' fill="#111" stroke="#111" stroke-width="0.14">Averag</text>
<text x="310.50" y="140.60" font-size="6.0" text-anchor="middle" font-family='"Liberation Sans", sans-serif' fill="#111" stroke="#111" stroke-width="0.14">e</text>
<text x="183.50" y="151.60" font-size="6.0" text-anchor="middle" font-family='"Liberation Sans", sans-serif' fill="#111" stroke="#111" stroke-width="0.14">T<tspan font-size="3.8" dy="1.4">max</tspan><tspan dy="-1.4"> (ºC)</tspan></text>
<text x="215.50" y="151.60" font-size="6.0" text-anchor="middle" font-family='"Liberation Sans", sans-serif' fill="#111" stroke="#111" stroke-width="0.14">42.9</text>
<text x="246.00" y="151.60" font-size="6.0" text-anchor="middle" font-family='"Liberation Sans", sans-serif' fill="#111" stroke="#111" stroke-width="0.14">45.5</text>
<text x="278.50" y="151.60" font-size="6.0" text-anchor="middle" font-family='"Liberation Sans", sans-serif' fill="#111" stroke="#111" stroke-width="0.14">47.4</text>
<text x="310.50" y="151.60" font-size="6.0" text-anchor="middle" font-family='"Liberation Sans", sans-serif' fill="#111" stroke="#111" stroke-width="0.14">45.2</text>
<text x="183.50" y="163.60" font-size="6.0" text-anchor="middle" font-family='"Liberation Sans", sans-serif' fill="#111" stroke="#111" stroke-width="0.14">Time to</text>
<text x="183.50" y="170.60" font-size="6.0" text-anchor="middle" font-family='"Liberation Sans", sans-serif' fill="#111" stroke="#111" stroke-width="0.14">T<tspan font-size="3.8" dy="1.4">max</tspan></text>
<text x="183.50" y="177.60" font-size="6.0" text-anchor="middle" font-family='"Liberation Sans", sans-serif' fill="#111" stroke="#111" stroke-width="0.14">(min)</text>
<text x="215.50" y="163.60" font-size="6.0" text-anchor="middle" font-family='"Liberation Sans", sans-serif' fill="#111" stroke="#111" stroke-width="0.14">6.5</text>
<text x="246.00" y="163.60" font-size="6.0" text-anchor="middle" font-family='"Liberation Sans", sans-serif' fill="#111" stroke="#111" stroke-width="0.14">9.0</text>
<text x="278.50" y="163.60" font-size="6.0" text-anchor="middle" font-family='"Liberation Sans", sans-serif' fill="#111" stroke="#111" stroke-width="0.14">8.0</text>
<text x="310.50" y="163.60" font-size="6.0" text-anchor="middle" font-family='"Liberation Sans", sans-serif' fill="#111" stroke="#111" stroke-width="0.14">7.8</text>
<line x1="329.50" y1="124.85" x2="329.50" y2="182.15" stroke="#1e1e1e" stroke-width="1.3"/>
<line x1="365.50" y1="124.85" x2="365.50" y2="182.15" stroke="#1e1e1e" stroke-width="1.3"/>
<line x1="403.50" y1="124.85" x2="403.50" y2="182.15" stroke="#1e1e1e" stroke-width="1.3"/>
<line x1="437.50" y1="124.85" x2="437.50" y2="182.15" stroke="#1e1e1e" stroke-width="1.3"/>
<line x1="471.50" y1="124.85" x2="471.50" y2="182.15" stroke="#1e1e1e" stroke-width="1.3"/>
<line x1="504.50" y1="124.85" x2="504.50" y2="182.15" stroke="#1e1e1e" stroke-width="1.3"/>
<line x1="328.85" y1="125.50" x2="505.15" y2="125.50" stroke="#1e1e1e" stroke-width="1.3"/>
<line x1="328.85" y1="144.50" x2="505.15" y2="144.50" stroke="#1e1e1e" stroke-width="1.3"/>
<line x1="328.85" y1="156.50" x2="505.15" y2="156.50" stroke="#1e1e1e" stroke-width="1.3"/>
<line x1="328.85" y1="181.50" x2="505.15" y2="181.50" stroke="#1e1e1e" stroke-width="1.3"/>
<text x="347.50" y="133.60" font-size="6.0" text-anchor="middle" font-family='"Liberation Sans", sans-serif' fill="#111" stroke="#111" stroke-width="0.14">60mg/ml</text>
<text x="347.50" y="140.60" font-size="6.0" text-anchor="middle" font-family='"Liberation Sans", sans-serif' fill="#111" stroke="#111" stroke-width="0.14">– 8ul</text>
<text x="384.50" y="133.60" font-size="6.0" text-anchor="middle" font-family='"Liberation Sans", sans-serif' fill="#111" stroke="#111" stroke-width="0.14">Mouse 1</text>
<text x="420.50" y="133.60" font-size="6.0" text-anchor="middle" font-family='"Liberation Sans", sans-serif' fill="#111" stroke="#111" stroke-width="0.14">Mouse 2</text>
<text x="454.50" y="133.60" font-size="6.0" text-anchor="middle" font-family='"Liberation Sans", sans-serif' fill="#111" stroke="#111" stroke-width="0.14">Mouse 3</text>
<text x="488.00" y="133.60" font-size="6.0" text-anchor="middle" font-family='"Liberation Sans", sans-serif' fill="#111" stroke="#111" stroke-width="0.14">Average</text>
<text x="347.50" y="152.60" font-size="6.0" text-anchor="middle" font-family='"Liberation Sans", sans-serif' fill="#111" stroke="#111" stroke-width="0.14">T<tspan font-size="3.8" dy="1.4">max</tspan><tspan dy="-1.4"> (ºC)</tspan></text>
<text x="384.50" y="152.60" font-size="6.0" text-anchor="middle" font-family='"Liberation Sans", sans-serif' fill="#111" stroke="#111" stroke-width="0.14">35.5</text>
<text x="420.50" y="152.60" font-size="6.0" text-anchor="middle" font-family='"Liberation Sans", sans-serif' fill="#111" stroke="#111" stroke-width="0.14">36.5</text>
<text x="454.50" y="152.60" font-size="6.0" text-anchor="middle" font-family='"Liberation Sans", sans-serif' fill="#111" stroke="#111" stroke-width="0.14">42.0</text>
<text x="488.00" y="152.60" font-size="6.0" text-anchor="middle" font-family='"Liberation Sans", sans-serif' fill="#111" stroke="#111" stroke-width="0.14">38.0</text>
<text x="347.50" y="164.60" font-size="6.0" text-anchor="middle" font-family='"Liberation Sans", sans-serif' fill="#111" stroke="#111" stroke-width="0.14">Time to</text>
<text x="347.50" y="171.60" font-size="6.0" text-anchor="middle" font-family='"Liberation Sans", sans-serif' fill="#111" stroke="#111" stroke-width="0.14">T<tspan font-size="3.8" dy="1.4">max</tspan></text>
<text x="347.50" y="178.60" font-size="6.0" text-anchor="middle" font-family='"Liberation Sans", sans-serif' fill="#111" stroke="#111" stroke-width="0.14">(min)</text>
<text x="384.50" y="164.60" font-size="6.0" text-anchor="middle" font-family='"Liberation Sans", sans-serif' fill="#111" stroke="#111" stroke-width="0.14">6.5</text>
<text x="420.50" y="164.60" font-size="6.0" text-anchor="middle" font-family='"Liberation Sans", sans-serif' fill="#111" stroke="#111" stroke-width="0.14">4.5</text>
<text x="454.50" y="164.60" font-size="6.0" text-anchor="middle" font-family='"Liberation Sans", sans-serif' fill="#111" stroke="#111" stroke-width="0.14">6.5</text>
<text x="488.00" y="164.60" font-size="6.0" text-anchor="middle" font-family='"Liberation Sans", sans-serif' fill="#111" stroke="#111" stroke-width="0.14">5.8</text>
<line x1="508.50" y1="124.85" x2="508.50" y2="182.15" stroke="#1e1e1e" stroke-width="1.3"/>
<line x1="545.50" y1="124.85" x2="545.50" y2="182.15" stroke="#1e1e1e" stroke-width="1.3"/>
<line x1="575.50" y1="124.85" x2="575.50" y2="182.15" stroke="#1e1e1e" stroke-width="1.3"/>
<line x1="604.50" y1="124.85" x2="604.50" y2="182.15" stroke="#1e1e1e" stroke-width="1.3"/>
<line x1="633.50" y1="124.85" x2="633.50" y2="182.15" stroke="#1e1e1e" stroke-width="1.3"/>
<line x1="665.50" y1="124.85" x2="665.50" y2="182.15" stroke="#1e1e1e" stroke-width="1.3"/>
<line x1="507.85" y1="125.50" x2="666.15" y2="125.50" stroke="#1e1e1e" stroke-width="1.3"/>
<line x1="507.85" y1="143.50" x2="666.15" y2="143.50" stroke="#1e1e1e" stroke-width="1.3"/>
<line x1="507.85" y1="156.50" x2="666.15" y2="156.50" stroke="#1e1e1e" stroke-width="1.3"/>
<line x1="507.85" y1="181.50" x2="666.15" y2="181.50" stroke="#1e1e1e" stroke-width="1.3"/>
<text x="527.00" y="133.00" font-size="6.0" text-anchor="middle" font-family='"Liberation Sans", sans-serif' fill="#111" stroke="#111" stroke-width="0.14">40mg/ml</text>
<text x="527.00" y="140.00" font-size="6.0" text-anchor="middle" font-family='"Liberation Sans", sans-serif' fill="#111" stroke="#111" stroke-width="0.14">– 8ul</text>
<text x="560.50" y="133.00" font-size="6.0" text-anchor="middle" font-family='"Liberation Sans", sans-serif' fill="#111" stroke="#111" stroke-width="0.14">Mouse</text>
<text x="560.50" y="140.00" font-size="6.0" text-anchor="middle" font-family='"Liberation Sans", sans-serif' fill="#111" stroke="#111" stroke-width="0.14">1</text>
<text x="590.00" y="133.00" font-size="6.0" text-anchor="middle" font-family='"Liberation Sans", sans-serif' fill="#111" stroke="#111" stroke-width="0.14">Mouse</text>
<text x="590.00" y="140.00" font-size="6.0" text-anchor="middle" font-family='"Liberation Sans", sans-serif' fill="#111" stroke="#111" stroke-width="0.14">2</text>
<text x="619.00" y="133.00" font-size="6.0" text-anchor="middle" font-family='"Liberation Sans", sans-serif' fill="#111" stroke="#111" stroke-width="0.14">Mouse</text>
<text x="619.00" y="140.00" font-size="6.0" text-anchor="middle" font-family='"Liberation Sans", sans-serif' fill="#111" stroke="#111" stroke-width="0.14">3</text>
<text x="649.50" y="133.00" font-size="6.0" text-anchor="middle" font-family='"Liberation Sans", sans-serif' fill="#111" stroke="#111" stroke-width="0.14">Averag</text>
<text x="649.50" y="140.00" font-size="6.0" text-anchor="middle" font-family='"Liberation Sans", sans-serif' fill="#111" stroke="#111" stroke-width="0.14">e</text>
<text x="527.00" y="151.00" font-size="6.0" text-anchor="middle" font-family='"Liberation Sans", sans-serif' fill="#111" stroke="#111" stroke-width="0.14">T<tspan font-size="3.8" dy="1.4">max</tspan><tspan dy="-1.4"> (ºC)</tspan></text>
<text x="560.50" y="151.00" font-size="6.0" text-anchor="middle" font-family='"Liberation Sans", sans-serif' fill="#111" stroke="#111" stroke-width="0.14">33.8</text>
<text x="590.00" y="151.00" font-size="6.0" text-anchor="middle" font-family='"Liberation Sans", sans-serif' fill="#111" stroke="#111" stroke-width="0.14">28.0</text>
<text x="619.00" y="151.00" font-size="6.0" text-anchor="middle" font-family='"Liberation Sans", sans-serif' fill="#111" stroke="#111" stroke-width="0.14">30.8</text>
<text x="649.50" y="151.00" font-size="6.0" text-anchor="middle" font-family='"Liberation Sans", sans-serif' fill="#111" stroke="#111" stroke-width="0.14">30.9</text>
<text x="527.00" y="164.00" font-size="6.0" text-anchor="middle" font-family='"Liberation Sans", sans-serif' fill="#111" stroke="#111" stroke-width="0.14">Time to</text>
<text x="527.00" y="171.00" font-size="6.0" text-anchor="middle" font-family='"Liberation Sans", sans-serif' fill="#111" stroke="#111" stroke-width="0.14">T<tspan font-size="3.8" dy="1.4">max</tspan></text>
<text x="527.00" y="178.00" font-size="6.0" text-anchor="middle" font-family='"Liberation Sans", sans-serif' fill="#111" stroke="#111" stroke-width="0.14">(min)</text>
<text x="560.50" y="164.00" font-size="6.0" text-anchor="middle" font-family='"Liberation Sans", sans-serif' fill="#111" stroke="#111" stroke-width="0.14">5.0</text>
<text x="590.00" y="164.00" font-size="6.0" text-anchor="middle" font-family='"Liberation Sans", sans-serif' fill="#111" stroke="#111" stroke-width="0.14">5.0</text>
<text x="619.00" y="164.00" font-size="6.0" text-anchor="middle" font-family='"Liberation Sans", sans-serif' fill="#111" stroke="#111" stroke-width="0.14">5.0</text>
<text x="649.50" y="164.00" font-size="6.0" text-anchor="middle" font-family='"Liberation Sans", sans-serif' fill="#111" stroke="#111" stroke-width="0.14">5.0</text>
<line x1="513.50" y1="250.85" x2="513.50" y2="315.15" stroke="#1e1e1e" stroke-width="1.3"/>
<line x1="564.50" y1="250.85" x2="564.50" y2="315.15" stroke="#1e1e1e" stroke-width="1.3"/>
<line x1="599.50" y1="250.85" x2="599.50" y2="315.15" stroke="#1e1e1e" stroke-width="1.3"/>
<line x1="641.50" y1="250.85" x2="641.50" y2="315.15" stroke="#1e1e1e" stroke-width="1.3"/>
<line x1="512.85" y1="251.50" x2="642.15" y2="251.50" stroke="#1e1e1e" stroke-width="1.3"/>
<line x1="512.85" y1="284.50" x2="642.15" y2="284.50" stroke="#1e1e1e" stroke-width="1.3"/>
<line x1="512.85" y1="296.50" x2="642.15" y2="296.50" stroke="#1e1e1e" stroke-width="1.3"/>
<line x1="512.85" y1="314.50" x2="642.15" y2="314.50" stroke="#1e1e1e" stroke-width="1.3"/>
<text x="539.00" y="259.60" font-size="6.0" text-anchor="middle" font-family='"Liberation Sans", sans-serif' fill="#111" stroke="#111" stroke-width="0.14">80mg/ml – 8ul</text>
<text x="582.00" y="259.60" font-size="6.0" text-anchor="middle" font-family='"Liberation Sans", sans-serif' fill="#111" stroke="#111" stroke-width="0.14">Day 1</text>
<text x="582.00" y="266.60" font-size="6.0" text-anchor="middle" font-family='"Liberation Sans", sans-serif' fill="#111" stroke="#111" stroke-width="0.14">(24h</text>
<text x="582.00" y="273.60" font-size="6.0" text-anchor="middle" font-family='"Liberation Sans", sans-serif' fill="#111" stroke="#111" stroke-width="0.14">post</text>
<text x="582.00" y="280.60" font-size="6.0" text-anchor="middle" font-family='"Liberation Sans", sans-serif' fill="#111" stroke="#111" stroke-width="0.14">CED)</text>
<text x="620.50" y="259.60" font-size="6.0" text-anchor="middle" font-family='"Liberation Sans", sans-serif' fill="#111" stroke="#111" stroke-width="0.14">Day 2 (48h</text>
<text x="620.50" y="266.60" font-size="6.0" text-anchor="middle" font-family='"Liberation Sans", sans-serif' fill="#111" stroke="#111" stroke-width="0.14">post CED)</text>
<text x="539.00" y="292.60" font-size="6.0" text-anchor="middle" font-family='"Liberation Sans", sans-serif' fill="#111" stroke="#111" stroke-width="0.14">T<tspan font-size="3.8" dy="1.4">max</tspan><tspan dy="-1.4"> (ºC)</tspan></text>
<text x="582.00" y="292.60" font-size="6.0" text-anchor="middle" font-family='"Liberation Sans", sans-serif' fill="#111" stroke="#111" stroke-width="0.14">42.0</text>
<text x="620.50" y="292.60" font-size="6.0" text-anchor="middle" font-family='"Liberation Sans", sans-serif' fill="#111" stroke="#111" stroke-width="0.14">41.8</text>
<text x="539.00" y="304.60" font-size="6.0" text-anchor="middle" font-family='"Liberation Sans", sans-serif' fill="#111" stroke="#111" stroke-width="0.14">Time to T<tspan font-size="3.8" dy="1.4">max</tspan></text>
<text x="539.00" y="311.60" font-size="6.0" text-anchor="middle" font-family='"Liberation Sans", sans-serif' fill="#111" stroke="#111" stroke-width="0.14">(min)</text>
<text x="582.00" y="304.60" font-size="6.0" text-anchor="middle" font-family='"Liberation Sans", sans-serif' fill="#111" stroke="#111" stroke-width="0.14">6.5</text>
<text x="620.50" y="304.60" font-size="6.0" text-anchor="middle" font-family='"Liberation Sans", sans-serif' fill="#111" stroke="#111" stroke-width="0.14">7.5</text>
<rect x="30.2" y="198.2" width="195" height="13.2" fill="#f9decf" stroke="#3a3a3a" stroke-width="1"/>
<text x="43.40" y="207.50" font-size="7.0" text-anchor="start" font-weight="bold" font-style="italic" font-family='"Liberation Sans", sans-serif' fill="#2a2a2a" stroke="#2a2a2a" stroke-width="0.1">Day 0</text>
<text x="116.10" y="207.50" font-size="7.0" text-anchor="start" font-weight="bold" font-style="italic" font-family='"Liberation Sans", sans-serif' fill="#2a2a2a" stroke="#2a2a2a" stroke-width="0.1">Day 1</text>
<text x="197.70" y="207.50" font-size="7.0" text-anchor="start" font-weight="bold" font-style="italic" font-family='"Liberation Sans", sans-serif' fill="#2a2a2a" stroke="#2a2a2a" stroke-width="0.1">Day 2</text>
<text x="50.30" y="232.30" font-size="7.1" text-anchor="middle" font-weight="bold" font-family='"Liberation Sans", sans-serif' fill="#2a2a2a" stroke="#2a2a2a" stroke-width="0.08">CED</text>
<text x="121.60" y="225.10" font-size="7.1" text-anchor="middle" font-weight="bold" font-family='"Liberation Sans", sans-serif' fill="#2a2a2a" stroke="#2a2a2a" stroke-width="0.08">Intracranial</text>
<text x="121.60" y="233.60" font-size="7.1" text-anchor="middle" font-weight="bold" font-family='"Liberation Sans", sans-serif' fill="#2a2a2a" stroke="#2a2a2a" stroke-width="0.08">Temperature</text>
<text x="121.60" y="242.10" font-size="7.1" text-anchor="middle" font-weight="bold" font-family='"Liberation Sans", sans-serif' fill="#2a2a2a" stroke="#2a2a2a" stroke-width="0.08">Recording</text>
<text x="203.40" y="225.10" font-size="7.1" text-anchor="middle" font-weight="bold" font-family='"Liberation Sans", sans-serif' fill="#2a2a2a" stroke="#2a2a2a" stroke-width="0.08">Intracranial</text>
<text x="203.40" y="233.60" font-size="7.1" text-anchor="middle" font-weight="bold" font-family='"Liberation Sans", sans-serif' fill="#2a2a2a" stroke="#2a2a2a" stroke-width="0.08">Temperature</text>
<text x="203.40" y="242.10" font-size="7.1" text-anchor="middle" font-weight="bold" font-family='"Liberation Sans", sans-serif' fill="#2a2a2a" stroke="#2a2a2a" stroke-width="0.08">Recording</text>
<line x1="38" y1="258" x2="200" y2="258" stroke="#000" stroke-width="3.8"/>
<polygon points="199,254.4 203.4,258 199,261.6" fill="#000"/>
<line x1="48.4" y1="246" x2="48.4" y2="268.6" stroke="#000" stroke-width="2.4"/>
<line x1="121.3" y1="246" x2="121.3" y2="268.6" stroke="#000" stroke-width="2.4"/>
<line x1="203.5" y1="246" x2="203.5" y2="268.6" stroke="#000" stroke-width="2.4"/>
<text x="48.30" y="277.50" font-size="5.7" text-anchor="middle" font-family='"Liberation Sans", sans-serif' fill="#222" stroke="#222" stroke-width="0.1">8ul,</text>
<text x="48.30" y="284.40" font-size="5.7" text-anchor="middle" font-family='"Liberation Sans", sans-serif' fill="#222" stroke="#222" stroke-width="0.1">80mg/ml,</text>
<text x="48.30" y="291.30" font-size="5.7" text-anchor="middle" font-family='"Liberation Sans", sans-serif' fill="#222" stroke="#222" stroke-width="0.1">0.5ul/min</text>
<text x="121.90" y="277.70" font-size="5.7" text-anchor="middle" font-family='"Liberation Sans", sans-serif' fill="#222" stroke="#222" stroke-width="0.1">383.5</text>
<text x="121.90" y="284.60" font-size="5.7" text-anchor="middle" font-family='"Liberation Sans", sans-serif' fill="#222" stroke="#222" stroke-width="0.1">kHz,</text>
<text x="121.90" y="291.50" font-size="5.7" text-anchor="middle" font-family='"Liberation Sans", sans-serif' fill="#222" stroke="#222" stroke-width="0.1">8.28</text>
<text x="121.90" y="298.40" font-size="5.7" text-anchor="middle" font-family='"Liberation Sans", sans-serif' fill="#222" stroke="#222" stroke-width="0.1">kA/m</text>
<text x="121.90" y="305.30" font-size="5.7" text-anchor="middle" font-family='"Liberation Sans", sans-serif' fill="#222" stroke="#222" stroke-width="0.1">10 min</text>
<text x="203.40" y="277.70" font-size="5.7" text-anchor="middle" font-family='"Liberation Sans", sans-serif' fill="#222" stroke="#222" stroke-width="0.1">383.5</text>
<text x="203.40" y="284.60" font-size="5.7" text-anchor="middle" font-family='"Liberation Sans", sans-serif' fill="#222" stroke="#222" stroke-width="0.1">kHz,</text>
<text x="203.40" y="291.50" font-size="5.7" text-anchor="middle" font-family='"Liberation Sans", sans-serif' fill="#222" stroke="#222" stroke-width="0.1">8.28</text>
<text x="203.40" y="298.40" font-size="5.7" text-anchor="middle" font-family='"Liberation Sans", sans-serif' fill="#222" stroke="#222" stroke-width="0.1">kA/m</text>
<text x="203.40" y="305.30" font-size="5.7" text-anchor="middle" font-family='"Liberation Sans", sans-serif' fill="#222" stroke="#222" stroke-width="0.1">10 min</text>
</g>
</svg></body></html>
